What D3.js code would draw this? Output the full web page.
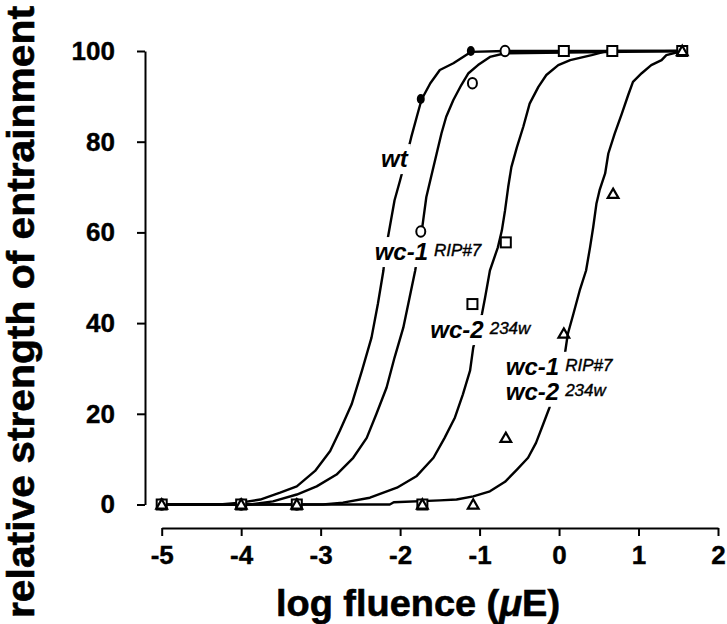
<!DOCTYPE html>
<html>
<head>
<meta charset="utf-8">
<script src="https://cdn.jsdelivr.net/npm/d3@7"></script>
<style>
  body { margin: 0; background: #fff; }
  svg { display: block; font-family: "Liberation Sans", Arial, Helvetica, sans-serif; }
  .axis path, .axis line { stroke: #000; stroke-width: 2; }
  .axis text { font-size: 26px; font-weight: bold; fill: #000; stroke: #000; stroke-width: 0.4; }
  .title { font-weight: bold; stroke: #000; stroke-width: 0.6; }
  .curve { fill: none; stroke: #000; stroke-width: 2.4; stroke-linejoin: round; }
  .lbl { font-size: 24px; font-weight: bold; font-style: italic; }
  .sup { font-size: 17px; font-weight: normal; font-style: italic; stroke: #000; stroke-width: 0.4; }
</style>
</head>
<body>
<div id="chart"></div>
<script>
/* Dose-response: relative strength of entrainment vs log fluence, four strains. */

const X_TICKS = [-5, -4, -3, -2, -1, 0, 1, 2];
const Y_TICKS = [0, 20, 40, 60, 80, 100];

// measured points [log fluence, % entrainment]
const wtPoints  = [[-5, 0], [-4, 0], [-3.3, 0], [-1.74, 89.4], [-1.11, 100]];
const wc1Points = [[-5, 0], [-4, 0], [-3.3, 0], [-1.74, 60.2], [-1.09, 92.9], [-0.68, 100]];
const wc2Points = [[-5, 0], [-4, 0], [-3.3, 0], [-1.72, 0], [-1.09, 44.2], [-0.67, 57.8],
                   [0.06, 100], [0.67, 100], [1.55, 100]];
const dblPoints = [[-5, 0], [-4, 0], [-3.3, 0], [-1.72, 0], [-1.08, 0], [-0.67, 14.7],
                   [0.06, 37.7], [0.68, 68.5], [1.55, 100]];

// fitted curves
const wtCurve = [[-5, 0], [-4.27, 0], [-4.01, 0.4], [-3.76, 1.1], [-3.51, 2.6], [-3.30, 4.0],
  [-3.07, 7.4], [-2.88, 11.8], [-2.76, 16.2], [-2.61, 22.1], [-2.48, 29.5], [-2.36, 36.8],
  [-2.28, 44.2], [-2.21, 51.6], [-2.19, 55.3], [-2.13, 61.2], [-2.07, 67.1], [-2.00, 71.5],
  [-1.90, 78.1], [-1.86, 81.0], [-1.79, 85.5], [-1.73, 89.3], [-1.62, 92.9], [-1.50, 95.8],
  [-1.33, 97.3], [-1.11, 99.8], [-0.68, 100], [1.55, 100]];
const wc1Curve = [[-5, 0], [-3.89, 0], [-3.60, 0.7], [-3.30, 2.2], [-3.05, 4.0], [-2.80, 6.6],
  [-2.59, 10.3], [-2.42, 14.7], [-2.30, 19.9], [-2.17, 25.8], [-2.07, 32.4], [-1.96, 39.0],
  [-1.88, 45.7], [-1.81, 51.6], [-1.73, 60.0], [-1.71, 62.6], [-1.67, 67.8], [-1.60, 73.0],
  [-1.54, 77.4], [-1.48, 81.8], [-1.42, 85.5], [-1.33, 89.2], [-1.23, 92.5], [-1.14, 95.1],
  [-1.02, 96.9], [-0.87, 98.7], [-0.68, 99.5], [1.55, 100]];
const wc2Curve = [[-5, 0], [-2.97, 0], [-2.72, 0.4], [-2.38, 1.5], [-2.04, 3.7], [-1.79, 6.3],
  [-1.58, 10.3], [-1.44, 14.7], [-1.31, 19.2], [-1.21, 24.3], [-1.12, 29.5], [-1.08, 34.6],
  [-0.97, 42.0], [-0.93, 45.7], [-0.87, 51.6], [-0.77, 56.7], [-0.72, 60.4], [-0.68, 64.8],
  [-0.64, 70.0], [-0.60, 74.4], [-0.53, 78.8], [-0.45, 83.3], [-0.37, 88.4], [-0.26, 92.1],
  [-0.16, 94.7], [-0.01, 96.9], [0.14, 98.0], [0.41, 99.1], [0.60, 100], [1.55, 100]];
const dblCurve = [[-5, 0], [-2.13, 0], [-2.08, 0.5], [-1.50, 0.9], [-1.29, 1.1], [-1.08, 1.8],
  [-0.87, 2.9], [-0.68, 5.0], [-0.53, 7.7], [-0.39, 10.3], [-0.29, 13.6], [-0.20, 17.7],
  [-0.12, 21.4], [0.07, 32.8], [0.11, 37.6], [0.18, 42.0], [0.26, 47.2], [0.34, 51.6],
  [0.39, 56.7], [0.43, 61.2], [0.47, 66.3], [0.51, 69.3], [0.58, 73.0], [0.62, 77.4],
  [0.70, 81.8], [0.79, 86.2], [0.87, 90.3], [0.93, 93.2], [1.04, 95.1], [1.16, 96.9],
  [1.29, 98.0], [1.35, 99.1], [1.55, 100]];

// strain labels: anchor in data units, main name + superscript per line
const LABELS = [
  {x: -2.24, y: 74.4, lines: [["wt", ""]]},
  {x: -2.32, y: 53.9, lines: [["wc-1", "RIP#7"]]},
  {x: -1.62, y: 36.7, lines: [["wc-2", "234w"]]},
  {x: -0.67, y: 28.6, lines: [["wc-1", "RIP#7"], ["wc-2", "234w"]]}
];

const W = 727, H = 624;

function drawChart(){
  const svg = d3.select("#chart").append("svg")
      .attr("width", W).attr("height", H);

  const x = d3.scaleLinear().domain([-5, 2]).range([161.7, 718]);
  const y = d3.scaleLinear().domain([0, 100]).range([504.5, 51]);

  // axes (detached, as in the original)
  svg.append("g").attr("class", "axis")
      .attr("transform", "translate(145,0)")
      .call(d3.axisLeft(y).tickValues(Y_TICKS).tickSize(8).tickSizeOuter(0).tickPadding(22));
  svg.append("g").attr("class", "axis")
      .attr("transform", "translate(0,528)")
      .call(d3.axisBottom(x).tickValues(X_TICKS).tickSize(8).tickSizeOuter(0).tickPadding(10)
              .tickFormat(d => String(d)));   // plain hyphen minus, no decimals
  svg.selectAll(".axis").attr("font-family", null).attr("font-size", null);

  svg.append("text").attr("class", "title")
      .attr("transform", "rotate(-90)")
      .attr("x", -312).attr("y", 34)
      .attr("text-anchor", "middle")
      .attr("font-size", 38)
      .attr("textLength", 612).attr("lengthAdjust", "spacingAndGlyphs")
      .text("relative strength of entrainment");

  const xt = svg.append("text").attr("class", "title")
      .attr("x", 418).attr("y", 616)
      .attr("text-anchor", "middle")
      .attr("font-size", 37)
      .attr("textLength", 284).attr("lengthAdjust", "spacingAndGlyphs");
  xt.append("tspan").text("log fluence (");
  xt.append("tspan").attr("font-style", "italic").text("μ");
  xt.append("tspan").text("E)");

  const line = d3.line().x(d => x(d[0])).y(d => y(d[1]));
  [wtCurve, wc1Curve, wc2Curve, dblCurve].forEach(c => {
    svg.append("path").attr("class", "curve").attr("d", line(c));
  });

  // labels sit on white boxes that cut the curves
  LABELS.forEach(l => {
    const g = svg.append("g");
    const t = g.append("text").attr("class", "lbl");
    l.lines.forEach((ln, i) => {
      t.append("tspan").attr("x", x(l.x)).attr("y", y(l.y) + i * 25).text(ln[0]);
      if (ln[1]) t.append("tspan").attr("class", "sup").attr("dx", 6).attr("dy", -4).text(ln[1]);
    });
    const b = t.node().getBBox();
    g.insert("rect", "text")
        .attr("x", b.x - 2).attr("y", b.y - 1)
        .attr("width", b.width + 4).attr("height", b.height + 3)
        .attr("fill", "#fff");
  });

  // markers
  svg.append("g").selectAll("ellipse").data(wtPoints).join("ellipse")
      .attr("cx", d => x(d[0])).attr("cy", d => y(d[1]))
      .attr("rx", 4).attr("ry", 5).attr("fill", "#000");
  svg.append("g").selectAll("ellipse").data(wc1Points).join("ellipse")
      .attr("cx", d => x(d[0])).attr("cy", d => y(d[1]))
      .attr("rx", 4.5).attr("ry", 5.2).attr("fill", "#fff").attr("stroke", "#000").attr("stroke-width", 2);
  svg.append("g").selectAll("rect").data(wc2Points).join("rect")
      .attr("x", d => x(d[0]) - 5).attr("y", d => y(d[1]) - 5)
      .attr("width", 10).attr("height", 10)
      .attr("fill", "#fff").attr("stroke", "#000").attr("stroke-width", 2);
  const tri = d3.symbol().type(d3.symbolTriangle).size(50);
  svg.append("g").selectAll("path").data(dblPoints).join("path")
      .attr("transform", d => `translate(${x(d[0])},${y(d[1]) + 1})`)
      .attr("d", tri)
      .attr("fill", "none").attr("stroke", "#000").attr("stroke-width", 2.2);
}

drawChart();
</script>
</body>
</html>
